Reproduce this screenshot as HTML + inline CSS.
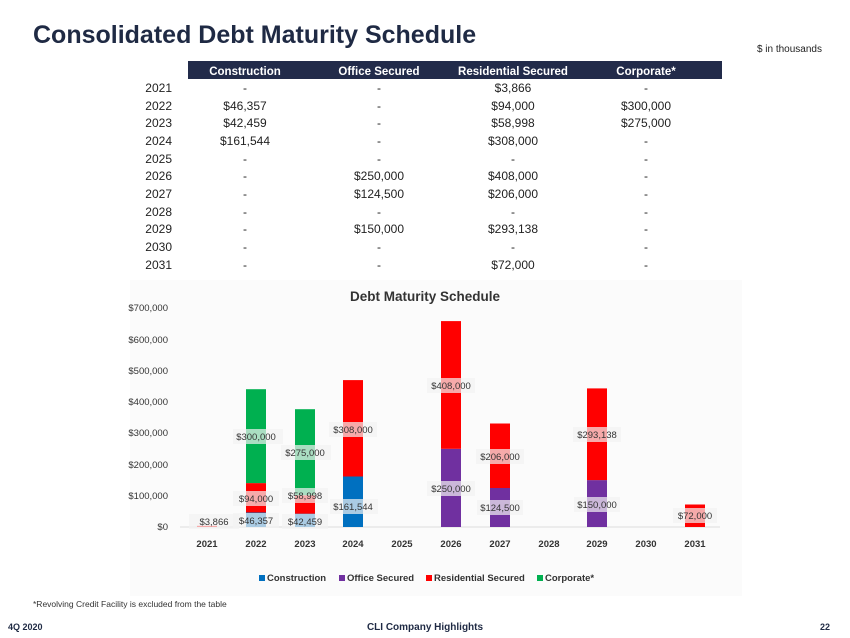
<!DOCTYPE html>
<html><head><meta charset="utf-8"><style>
body{margin:0;background:#fff;}
svg{display:block;font-family:"Liberation Sans",sans-serif;}
</style></head><body>
<svg width="850" height="638" viewBox="0 0 850 638" xmlns="http://www.w3.org/2000/svg">
<rect width="850" height="638" fill="#fff"/>
<text x="33" y="43" font-size="25" font-weight="bold" fill="#1f2a44">Consolidated Debt Maturity Schedule</text>
<text x="822" y="52" font-size="10" fill="#222" text-anchor="end">$ in thousands</text>
<rect x="188" y="61" width="534" height="18" fill="#222b4a"/>
<g font-size="11.5" font-weight="bold" fill="#fff" text-anchor="middle">
<text x="245" y="75">Construction</text><text x="379" y="75">Office Secured</text><text x="513" y="75">Residential Secured</text><text x="646" y="75">Corporate*</text></g>
<g font-size="12" fill="#222">
<g text-anchor="end"><text x="172" y="92">2021</text><text x="172" y="110">2022</text><text x="172" y="127">2023</text><text x="172" y="145">2024</text><text x="172" y="163">2025</text><text x="172" y="180">2026</text><text x="172" y="198">2027</text><text x="172" y="216">2028</text><text x="172" y="233">2029</text><text x="172" y="251">2030</text><text x="172" y="269">2031</text></g>
<g text-anchor="middle">
<text x="245" y="92">-</text><text x="379" y="92">-</text><text x="513" y="92">$3,866</text><text x="646" y="92">-</text>
<text x="245" y="110">$46,357</text><text x="379" y="110">-</text><text x="513" y="110">$94,000</text><text x="646" y="110">$300,000</text>
<text x="245" y="127">$42,459</text><text x="379" y="127">-</text><text x="513" y="127">$58,998</text><text x="646" y="127">$275,000</text>
<text x="245" y="145">$161,544</text><text x="379" y="145">-</text><text x="513" y="145">$308,000</text><text x="646" y="145">-</text>
<text x="245" y="163">-</text><text x="379" y="163">-</text><text x="513" y="163">-</text><text x="646" y="163">-</text>
<text x="245" y="180">-</text><text x="379" y="180">$250,000</text><text x="513" y="180">$408,000</text><text x="646" y="180">-</text>
<text x="245" y="198">-</text><text x="379" y="198">$124,500</text><text x="513" y="198">$206,000</text><text x="646" y="198">-</text>
<text x="245" y="216">-</text><text x="379" y="216">-</text><text x="513" y="216">-</text><text x="646" y="216">-</text>
<text x="245" y="233">-</text><text x="379" y="233">$150,000</text><text x="513" y="233">$293,138</text><text x="646" y="233">-</text>
<text x="245" y="251">-</text><text x="379" y="251">-</text><text x="513" y="251">-</text><text x="646" y="251">-</text>
<text x="245" y="269">-</text><text x="379" y="269">-</text><text x="513" y="269">$72,000</text><text x="646" y="269">-</text>
</g></g>
<rect x="130" y="280" width="612" height="316" fill="#fbfbfb"/>
<text x="425" y="301" font-size="13.5" font-weight="bold" fill="#333" text-anchor="middle">Debt Maturity Schedule</text>
<g font-size="9.5" fill="#333" text-anchor="end">
<text x="168" y="311">$700,000</text><text x="168" y="343">$600,000</text><text x="168" y="374">$500,000</text><text x="168" y="405">$400,000</text><text x="168" y="436">$300,000</text><text x="168" y="468">$200,000</text><text x="168" y="499">$100,000</text><text x="168" y="530">$0</text></g>
<line x1="180" y1="527" x2="720" y2="527" stroke="#ddd"/>
<g font-size="9.5" font-weight="bold" fill="#333" text-anchor="middle">
<text x="207" y="547">2021</text><text x="256" y="547">2022</text><text x="305" y="547">2023</text><text x="353" y="547">2024</text><text x="402" y="547">2025</text><text x="451" y="547">2026</text><text x="500" y="547">2027</text><text x="549" y="547">2028</text><text x="597" y="547">2029</text><text x="646" y="547">2030</text><text x="695" y="547">2031</text></g>
<g>
<rect x="197" y="525.8" width="20" height="1.2" fill="#f00"/>
<rect x="246" y="512.5" width="20" height="14.5" fill="#0070c0"/><rect x="246" y="483.1" width="20" height="29.4" fill="#f00"/><rect x="246" y="389.2" width="20" height="93.9" fill="#00b050"/>
<rect x="295" y="513.7" width="20" height="13.3" fill="#0070c0"/><rect x="295" y="495.2" width="20" height="18.5" fill="#f00"/><rect x="295" y="409.2" width="20" height="86" fill="#00b050"/>
<rect x="343" y="476.5" width="20" height="50.5" fill="#0070c0"/><rect x="343" y="380.1" width="20" height="96.4" fill="#f00"/>
<rect x="441" y="448.8" width="20" height="78.2" fill="#7030a0"/><rect x="441" y="321.1" width="20" height="127.7" fill="#f00"/>
<rect x="490" y="488" width="20" height="39" fill="#7030a0"/><rect x="490" y="423.5" width="20" height="64.5" fill="#f00"/>
<rect x="587" y="480.1" width="20" height="46.9" fill="#7030a0"/><rect x="587" y="388.4" width="20" height="91.7" fill="#f00"/>
<rect x="685" y="504.5" width="20" height="22.5" fill="#f00"/>
</g>
<g font-size="9.5" fill="#333" text-anchor="middle">
<g fill="#f2f2f2" fill-opacity="0.7">
<rect x="189" y="514" width="50" height="15"/><rect x="233" y="513" width="46" height="15"/><rect x="233" y="491" width="46" height="15"/><rect x="233" y="429" width="50" height="15"/>
<rect x="282" y="514" width="46" height="15"/><rect x="282" y="488" width="46" height="15"/><rect x="281" y="445" width="50" height="15"/>
<rect x="330" y="499" width="48" height="15"/><rect x="329" y="422" width="48" height="15"/>
<rect x="427" y="481" width="48" height="15"/><rect x="427" y="378" width="48" height="15"/>
<rect x="477" y="500" width="46" height="15"/><rect x="476" y="449" width="48" height="15"/>
<rect x="574" y="497" width="46" height="15"/><rect x="573" y="427" width="48" height="15"/>
<rect x="673" y="508" width="44" height="15"/></g>
<text x="214" y="525">$3,866</text><text x="256" y="524">$46,357</text><text x="256" y="502">$94,000</text><text x="256" y="440">$300,000</text>
<text x="305" y="525">$42,459</text><text x="305" y="499">$58,998</text><text x="305" y="456">$275,000</text>
<text x="353" y="510">$161,544</text><text x="353" y="433">$308,000</text>
<text x="451" y="492">$250,000</text><text x="451" y="389">$408,000</text>
<text x="500" y="511">$124,500</text><text x="500" y="460">$206,000</text>
<text x="597" y="508">$150,000</text><text x="597" y="438">$293,138</text>
<text x="695" y="519">$72,000</text></g>
<g font-size="9.5" font-weight="bold" fill="#333">
<rect x="259" y="575" width="6" height="6" fill="#0070c0"/><text x="267" y="581">Construction</text>
<rect x="339" y="575" width="6" height="6" fill="#7030a0"/><text x="347" y="581">Office Secured</text>
<rect x="426" y="575" width="6" height="6" fill="#f00"/><text x="434" y="581">Residential Secured</text>
<rect x="537" y="575" width="6" height="6" fill="#00b050"/><text x="545" y="581">Corporate*</text></g>
<text x="33" y="607" font-size="8.5" fill="#333">*Revolving Credit Facility is excluded from the table</text>
<text x="8" y="630" font-size="9" font-weight="bold" fill="#1f2a44">4Q 2020</text>
<text x="425" y="630" font-size="10" font-weight="bold" fill="#1f2a44" text-anchor="middle">CLI Company Highlights</text>
<text x="830" y="630" font-size="9" font-weight="bold" fill="#1f2a44" text-anchor="end">22</text>
</svg>
</body></html>
